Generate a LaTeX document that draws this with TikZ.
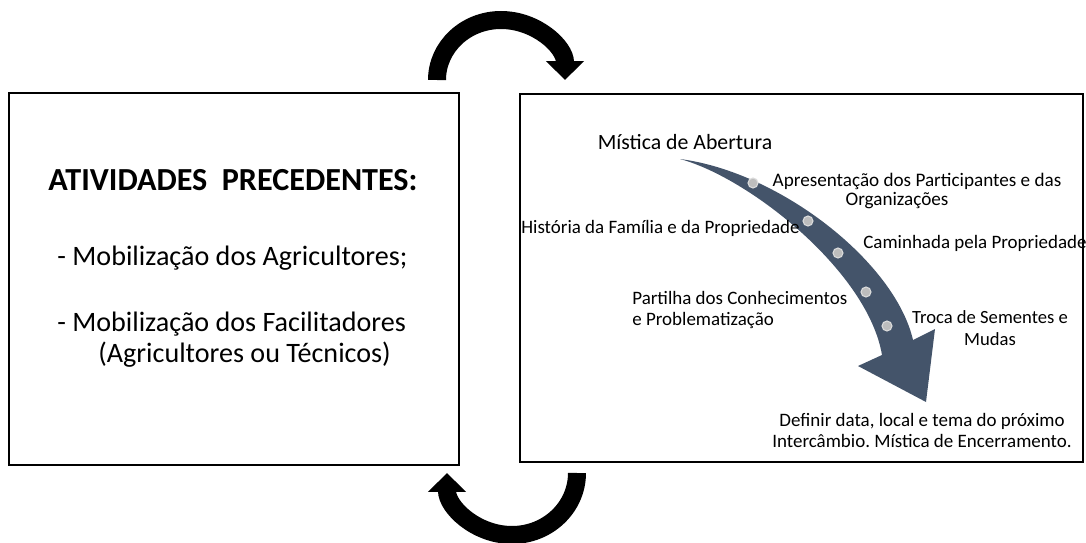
\documentclass[tikz,border=0pt]{standalone}
\usepackage{fontspec}
\setmainfont{Carlito}
\usetikzlibrary{arrows.meta}

\definecolor{slate}{HTML}{44546A}
\definecolor{dotgray}{HTML}{BDBDBD}
\definecolor{dotrim}{HTML}{DCDCDC}

\newcommand{\sz}[2]{\fontsize{#1}{#2}\selectfont}

\begin{document}
\frenchspacing
\begin{tikzpicture}[x=0.02cm, y=0.02cm,
    panel/.style={draw, line width=1.2pt, inner sep=0pt},
    stage/.style={font=\sz{10.8}{11.4}, inner sep=0pt},
    bigtext/.style={font=\sz{16}{17.6}, inner sep=0pt},
    loop/.style={line width=0.36cm, -{Triangle[width=0.74cm, length=0.38cm]}},
    milestone/.style={circle, fill=dotgray, draw=dotrim, line width=0.6pt,
                      minimum size=0.2cm, inner sep=0pt}]
  \useasboundingbox (0,0) rectangle (1086,542);

  % the two boxes
  \node[panel, minimum width=9cm, minimum height=7.44cm] (prev) at (234,263) {};
  \node[panel, minimum width=11.26cm, minimum height=7.36cm] (meet) at (801.5,264) {};

  % left box
  \node[font=\bfseries\sz{18.3}{20}, inner sep=0pt, anchor=base]
    (title) at (233,352) {ATIVIDADES\ \ PRECEDENTES:};
  \node[bigtext, anchor=base] (agric) at (232.5,277) {- Mobilização dos Agricultores;};
  \node[bigtext, anchor=base west] (facil) at (57,211) {- Mobilização dos Facilitadores};
  \node[bigtext, anchor=base west] (tecn) at (98,180) {(Agricultores ou Técnicos)};

  % the curved arrow of the day
  \fill[slate] (680,383) .. controls (780,370) and (895,280) .. (913,202)
    -- (935,213) -- (926,140) -- (858,176) -- (882,187)
    .. controls (868,270) and (750,364) .. (680,383) -- cycle;
  \foreach \px/\py [count=\i] in {753/359, 808/321, 838/289, 866/250, 887/216}
    \node[milestone] (m\i) at (\px,\py) {};

  % right box
  \node[stage, font=\sz{12.4}{13}, anchor=base] (abert) at (685,393) {Mística de Abertura};
  \node[stage, anchor=base west] (hist) at (521,309) {História da Família e da Propriedade};
  \node[stage, font=\sz{10.9}{10.8}, anchor=base, align=center] (apres) at (917,337)
    {Apresentação dos Participantes e das\\Organizações\hspace*{0.8cm}};
  \node[stage, anchor=base west] (camin) at (863,294) {Caminhada pela Propriedade};
  \node[stage, anchor=base west, align=left] (part) at (632,217)
    {Partilha dos Conhecimentos\\e Problematização};
  \node[stage, font=\sz{10.6}{12.5}, anchor=base, align=center] (troca) at (990,197)
    {Troca de Sementes e\\Mudas};
  \node[stage, anchor=base, align=center] (defin) at (922,95)
    {Definir data, local e tema do próximo\\Intercâmbio. Mística de Encerramento.};

  % cycle arrows between the boxes
  \coordinate (topfoot) at (437,462);
  \coordinate (lowfoot) at (577,69);
  \draw[loop] (topfoot) arc[start angle=180, end angle=0, x radius=64, y radius=60];
  \draw[loop] (lowfoot) arc[start angle=0, end angle=-180, x radius=65, y radius=62];
\end{tikzpicture}
\end{document}
